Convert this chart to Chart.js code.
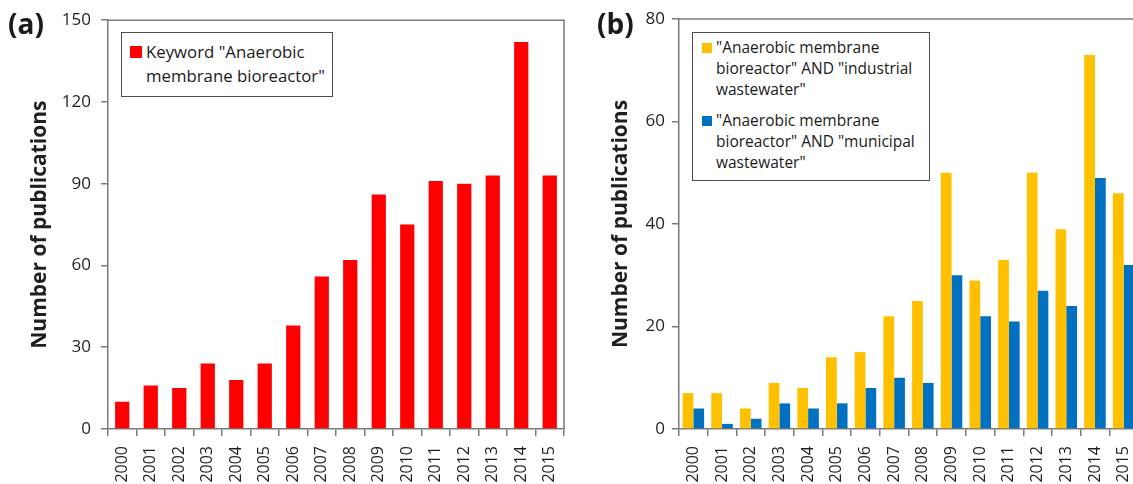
<!DOCTYPE html>
<html>
<head>
<meta charset="utf-8">
<script src="https://cdn.jsdelivr.net/npm/chart.js@4.4.0/dist/chart.umd.min.js"></script>
<style>
  html, body { margin: 0; padding: 0; background: #fff; width: 1133px; height: 484px; overflow: hidden; }
  body { position: relative; font-family: "Open Sans", sans-serif; color: #1a1a1a; }
  canvas { position: absolute; top: 0; }
  #chartA { left: 0; }
  #chartB { left: 580px; }
  .tag { position: absolute; top: 3px; font-weight: 700; font-size: 28px; line-height: 40px; }
  .legend { position: absolute; box-sizing: border-box; border: 1.5px solid #4d4d4d; background: #fff; }
  .legend .mark { position: absolute; }
  .legend .txt { position: absolute; white-space: pre; color: #1a1a1a; }
</style>
</head>
<body>
<canvas id="chartA" width="580" height="484"></canvas>
<canvas id="chartB" width="580" height="484"></canvas>
<div class="tag" style="left:8px">(a)</div>
<div class="tag" style="left:597px">(b)</div>
<div class="legend" id="legendA" style="left:121px; top:32px; width:212px; height:65px"></div>
<div class="legend" id="legendB" style="left:692px; top:32px; width:238px; height:149px"></div>
<script>
// data
const years = ['2000', '2001', '2002', '2003', '2004', '2005', '2006', '2007',
               '2008', '2009', '2010', '2011', '2012', '2013', '2014', '2015'];
const keywordCounts = [10, 16, 15, 24, 18, 24, 38, 56, 62, 86, 75, 91, 90, 93, 142, 93];
const industrialCounts = [7, 7, 4, 9, 8, 14, 15, 22, 25, 50, 29, 33, 50, 39, 73, 46];
const municipalCounts = [4, 1, 2, 5, 4, 5, 8, 10, 9, 30, 22, 21, 27, 24, 49, 32];
const ticksA = [0, 30, 60, 90, 120, 150];
const ticksB = [0, 20, 40, 60, 80];
const labelA = 'Keyword "Anaerobic\nmembrane bioreactor"';
const labelIndustrial = '"Anaerobic membrane\nbioreactor" AND "industrial\nwastewater"';
const labelMunicipal = '"Anaerobic membrane\nbioreactor" AND "municipal\nwastewater"';
const yTitle = 'Number of publications';

const RED = '#ff0000';
const YELLOW = '#ffc000';
const BLUE = '#0070c0';
const AXIS = '#7a7a7a';
const TEXT = '#1f1f1f';
const FONT = '"Open Sans", sans-serif';

// top and right edges of the plot box
const framePlugin = {
    id: 'frame',
    afterDatasetsDraw(chart) {
        const { ctx, chartArea: a } = chart;
        ctx.save();
        ctx.strokeStyle = AXIS;
        ctx.lineWidth = 1.5;
        ctx.beginPath();
        ctx.moveTo(a.left, a.top);
        ctx.lineTo(a.right, a.top);
        ctx.lineTo(a.right, a.bottom);
        ctx.stroke();
        ctx.restore();
    }
};

function makeOptions(yMax, yTicks, yWidth, titlePad, tickPad, padRight) {
    return {
        responsive: false,
        animation: false,
        events: [],
        layout: { padding: { left: 18, top: 19, right: padRight, bottom: 0 } },
        plugins: { legend: { display: false }, tooltip: { enabled: false } },
        scales: {
            x: {
                offset: true,
                grid: { offset: true, drawOnChartArea: false, drawTicks: true, tickLength: 7, color: AXIS, lineWidth: 1.5 },
                border: { color: AXIS, width: 1.5 },
                ticks: { autoSkip: false, minRotation: 90, maxRotation: 90, padding: 10, color: TEXT, font: { family: FONT, size: 16 } },
                afterFit: s => { s.height = 55; }
            },
            y: {
                min: 0,
                max: yMax,
                grid: { drawOnChartArea: false, drawTicks: true, tickLength: 7, color: AXIS, lineWidth: 1.5 },
                border: { color: AXIS, width: 1.5 },
                ticks: { padding: tickPad, color: TEXT, font: { family: FONT, size: 17 } },
                afterBuildTicks: s => { s.ticks = yTicks.map(v => ({ value: v })); },
                title: {
                    display: true,
                    text: yTitle,
                    color: TEXT,
                    padding: { top: titlePad, bottom: 0 },
                    font: { family: FONT, size: 21, weight: 'bold' }
                },
                afterFit: s => { s.width = yWidth; }
            }
        }
    };
}

new Chart(document.getElementById('chartA').getContext('2d'), {
    type: 'bar',
    data: {
        labels: years,
        datasets: [{
            label: labelA,
            data: keywordCounts,
            backgroundColor: RED,
            borderWidth: 0,
            categoryPercentage: 1,
            barPercentage: 0.5
        }]
    },
    options: makeOptions(150, ticksA, 90, 9, 10, 16),
    plugins: [framePlugin]
});

new Chart(document.getElementById('chartB').getContext('2d'), {
    type: 'bar',
    data: {
        labels: years,
        datasets: [
            {
                label: labelIndustrial,
                data: industrialCounts,
                backgroundColor: YELLOW,
                borderWidth: 0,
                categoryPercentage: 0.75,
                barPercentage: 1
            },
            {
                label: labelMunicipal,
                data: municipalCounts,
                backgroundColor: BLUE,
                borderWidth: 0,
                categoryPercentage: 0.75,
                barPercentage: 1
            }
        ]
    },
    options: makeOptions(80, ticksB, 81, 10, 7, 22),
    plugins: [framePlugin]
});

// boxed legends with wrapped labels, like the original
function buildLegend(el, entries, opts) {
    let y = opts.top;
    entries.forEach(e => {
        const lines = e.label.split('\n');
        const mark = document.createElement('div');
        mark.className = 'mark';
        mark.style.cssText = `left:${opts.markX}px; top:${y + (opts.lineH - opts.markS) / 2}px; width:${opts.markS}px; height:${opts.markS}px; background:${e.color}`;
        el.appendChild(mark);
        const txt = document.createElement('div');
        txt.className = 'txt';
        txt.textContent = lines.join('\n');
        txt.style.cssText = `left:${opts.textX}px; top:${y}px; font-size:${opts.size}px; line-height:${opts.lineH}px`;
        el.appendChild(txt);
        y += lines.length * opts.lineH + opts.gap;
    });
}

buildLegend(document.getElementById('legendA'),
    [{ label: labelA, color: RED }],
    { top: 7, markX: 8, markS: 12, textX: 24, lineH: 24, size: 16.8, gap: 0 });

buildLegend(document.getElementById('legendB'),
    [{ label: labelIndustrial, color: YELLOW }, { label: labelMunicipal, color: BLUE }],
    { top: 4, markX: 9, markS: 10, textX: 23, lineH: 21, size: 15.5, gap: 10 });
</script>
</body>
</html>
